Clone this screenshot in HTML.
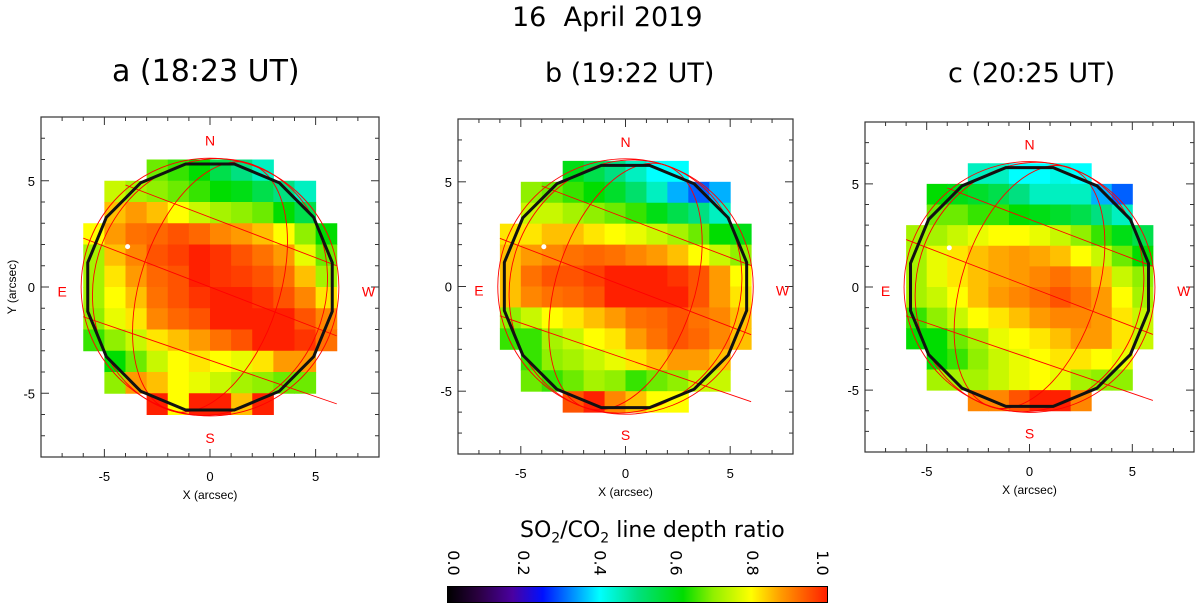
<!DOCTYPE html>
<html><head><meta charset="utf-8">
<style>
body{margin:0;background:#fff;width:1200px;height:606px;overflow:hidden;font-family:"Liberation Sans",sans-serif;}
.t{position:absolute;white-space:nowrap;color:#000;font-family:"DejaVu Sans","Liberation Sans",sans-serif;}
</style></head><body>
<div class="t" style="left:512px;top:2px;font-size:27px;">16&nbsp; April 2019</div>
<div class="t" style="left:112px;top:54px;font-size:30px;">a (18:23 UT)</div>
<div class="t" style="left:545px;top:58px;font-size:27px;">b (19:22 UT)</div>
<div class="t" style="left:948px;top:58px;font-size:27px;">c (20:25 UT)</div>
<svg id="svg" width="1200" height="606" style="position:absolute;left:0;top:0"></svg>
<div class="t" style="left:520px;top:518px;font-size:22px;">SO<sub style="font-size:14px">2</sub>/CO<sub style="font-size:14px">2</sub> line depth ratio</div>
<div style="position:absolute;left:447px;top:586px;width:381px;height:17px;border:1px solid #000;box-sizing:border-box;background:linear-gradient(to right,#000 0%,#2a0040 8%,#4a00a0 17%,#0010ff 25%,#0090ff 33%,#00ffff 40%,#00e080 50%,#00dd00 62%,#90f000 70%,#ffff00 80%,#ff9a00 88%,#ff2000 100%);"></div>
<script>
const tickVals=[-5,0,5];
const cbTicks=["0.0","0.2","0.4","0.6","0.8","1.0"];
const cellY=[5.5,4.5,3.5,2.5,1.5,0.5,-0.5,-1.5,-2.5,-3.5,-4.5,-5.5];
const cellX=[-5.5,-4.5,-3.5,-2.5,-1.5,-0.5,0.5,1.5,2.5,3.5,4.5,5.5];
const gridA=[
[.7,.7,.7,.68,.65,.62,.55,.5,.45,.45,.5,.5],
[.75,.75,.72,.7,.68,.65,.62,.6,.55,.5,.45,.45],
[.85,.85,.88,.85,.8,.75,.72,.7,.68,.62,.55,.5],
[.8,.88,.92,.93,.95,.93,.9,.88,.85,.8,.7,.62],
[.72,.85,.9,.95,.97,1,.98,.95,.92,.88,.78,.68],
[.72,.82,.88,.93,.95,1,.98,.97,.95,.92,.85,.72],
[.72,.8,.85,.92,.95,.98,1,1,.98,.95,.9,.82],
[.7,.78,.82,.9,.93,.95,1,1,1,1,.95,.9],
[.65,.7,.75,.82,.85,.88,.92,.95,1,1,.98,.92],
[.6,.62,.68,.75,.8,.82,.8,.78,.82,.88,.88,.85],
[.7,.7,.88,.85,.8,.78,.75,.72,.7,.68,.68,.65],
[.9,.9,1,1,.8,1,1,.85,1,.8,.7,.7]];
const gridB=[
[.6,.6,.62,.6,.55,.5,.45,.4,.4,.4,.4,.4],
[.7,.7,.68,.65,.62,.58,.52,.45,.35,.3,.35,.4],
[.75,.75,.75,.72,.7,.68,.65,.6,.55,.5,.45,.45],
[.82,.82,.85,.85,.82,.8,.78,.75,.72,.68,.62,.6],
[.85,.88,.9,.92,.93,.92,.9,.88,.85,.8,.75,.7],
[.85,.92,.95,.95,.97,1,1,1,.98,.95,.88,.8],
[.85,.9,.92,.93,.95,1,1,1,1,.95,.88,.82],
[.7,.75,.8,.82,.85,.88,.92,.93,.95,.92,.9,.85],
[.65,.65,.72,.75,.8,.82,.88,.92,.95,.93,.9,.85],
[.65,.65,.7,.72,.75,.78,.82,.85,.88,.88,.85,.8],
[.7,.68,.65,.68,.72,.7,.65,.68,.7,.75,.75,.7],
[.8,.8,.85,.95,1,.9,.85,.8,.8,.8,.75,.7]];
const gridC=[
[.55,.55,.5,.45,.45,.4,.4,.42,.4,.35,.35,.4],
[.65,.62,.6,.58,.55,.5,.45,.45,.45,.35,.3,.4],
[.68,.68,.68,.65,.65,.62,.6,.58,.55,.5,.45,.45],
[.72,.72,.75,.78,.8,.8,.78,.75,.7,.65,.6,.55],
[.72,.78,.82,.85,.87,.88,.87,.85,.8,.75,.68,.62],
[.72,.78,.82,.85,.87,.88,.9,.92,.9,.85,.75,.7],
[.72,.75,.8,.85,.88,.9,.92,.95,.92,.88,.8,.72],
[.65,.7,.75,.8,.82,.85,.88,.9,.9,.88,.82,.75],
[.62,.62,.68,.72,.78,.8,.82,.85,.88,.88,.82,.75],
[.62,.62,.65,.7,.75,.78,.8,.82,.82,.8,.78,.75],
[.72,.72,.72,.72,.75,.78,.8,.78,.72,.7,.7,.7],
[1,1,.95,.9,.9,.95,1,1,.9,.8,.7,.7]];
const NS="http://www.w3.org/2000/svg";
const svg=document.getElementById('svg');
const stops=[[0,[0,0,0]],[.08,[42,0,64]],[.17,[74,0,160]],[.25,[0,16,255]],[.33,[0,144,255]],[.4,[0,255,255]],[.5,[0,224,128]],[.62,[0,221,0]],[.7,[144,240,0]],[.8,[255,255,0]],[.88,[255,154,0]],[1,[255,32,0]]];
function cmap(v){v=Math.max(0,Math.min(1,v));for(let i=1;i<stops.length;i++){if(v<=stops[i][0]){const a=stops[i-1],b=stops[i],t=(v-a[0])/(b[0]-a[0]);const c=a[1].map((q,k)=>Math.round(q+(b[1][k]-q)*t));return `rgb(${c})`;}}return 'rgb(255,32,0)';}
function mk(tag,at,parent){const e=document.createElementNS(NS,tag);for(const k in at)e.setAttribute(k,at[k]);(parent||svg).appendChild(e);return e;}
function panel(id,grid,x0,x1,y0,y1,showY){
  const g=mk('g',{});
  
  
  const sx=v=>x0+(v+8)/16*(x1-x0), sy=v=>y1-(v+8)/16*(y1-y0);
  const cw=(x1-x0)/16, ch=(y1-y0)/16;
  cellY.forEach((yv,r)=>cellX.forEach((xv,c)=>{
    if(Math.hypot(xv,yv)>6.4)return;
    const rc=mk('rect',{x:sx(xv-.5),y:sy(yv+.5),width:cw+.5,height:ch+.5,fill:cmap(grid[r][c])},g);
    
    
  }));
  const cx=sx(0),cy=sy(0);
  const rg=mk('g',{fill:'none',stroke:'#f00','stroke-width':0.9},g);
  
  
  mk('circle',{cx:cx,cy:cy,r:6.1*cw},rg);
  mk('ellipse',{cx:cx,cy:cy,rx:3.3*cw,ry:6.1*ch,transform:`rotate(18 ${cx} ${cy})`},rg);
  mk('ellipse',{cx:cx,cy:cy,rx:5.5*cw,ry:6.1*ch,transform:`rotate(18 ${cx} ${cy})`},rg);
  [[-6,2.3,6,-2.3],[-6,-1.4,6,-5.5],[-4,4.8,6,1]].forEach(l=>mk('line',{x1:sx(l[0]),y1:sy(l[1]),x2:sx(l[2]),y2:sy(l[3])},rg));
  let pts=[];for(let i=0;i<16;i++){const a=i/16*2*Math.PI+Math.PI/16;pts.push([cx+5.9*cw*Math.cos(a),cy+5.9*ch*Math.sin(a)].join(','));}
  const lb=mk('polygon',{points:pts.join(' '),fill:'none',stroke:'#111','stroke-width':3},g);
  
  
  mk('circle',{cx:sx(-3.9),cy:sy(1.9),r:2.5,fill:'#fff'},g);
  const fr=mk('rect',{x:x0,y:y0,width:x1-x0,height:y1-y0,fill:'none',stroke:'#333','stroke-width':1.2},g);
  
  
  for(let v=-7;v<=7;v++){const L=(v%5==0)?8:4;
    mk('line',{x1:sx(v),y1:y1,x2:sx(v),y2:y1-L,stroke:'#333'},g);
    mk('line',{x1:sx(v),y1:y0,x2:sx(v),y2:y0+L,stroke:'#333'},g);
    mk('line',{x1:x0,y1:sy(v),x2:x0+L,y2:sy(v),stroke:'#333'},g);
    mk('line',{x1:x1,y1:sy(v),x2:x1-L,y2:sy(v),stroke:'#333'},g);}
  tickVals.forEach(v=>{
    const t=mk('text',{x:sx(v),y:y1+24,'font-size':13,'text-anchor':'middle','font-family':'Liberation Sans'},g);t.textContent=v;
    
    
    const u=mk('text',{x:x0-6,y:sy(v)+5,'font-size':13,'text-anchor':'end','font-family':'Liberation Sans'},g);u.textContent=v;
    
    
  });
  const xt=mk('text',{x:sx(0),y:y1+42,'font-size':12,'text-anchor':'middle','font-family':'Liberation Sans'},g);xt.textContent='X (arcsec)';
  
  
  if(showY){const yt=mk('text',{x:0,y:0,'font-size':12,'text-anchor':'middle','font-family':'Liberation Sans',transform:`translate(16 ${sy(0)}) rotate(-90)`},g);yt.textContent='Y (arcsec)';
    
    }
  [['N',0,6.9],['S',0,-7.1],['E',-7,-0.2],['W',7.5,-0.2]].forEach(d=>{const t=mk('text',{x:sx(d[1]),y:sy(d[2])+5,'font-size':14,fill:'#f00','text-anchor':'middle','font-family':'Liberation Sans'},g);t.textContent=d[0];
    
    });
}
panel('a',gridA,41,379,117,457,true);
panel('b',gridB,458,793,119,454,false);
panel('c',gridC,865,1194,122,452,false);
cbTicks.forEach((s,i)=>{const x=447+i/5*381+(i==0?6:(i==5?-6:0));
  const t=mk('text',{x:0,y:0,'font-size':16,'font-family':'DejaVu Sans','text-anchor':'middle',transform:`translate(${x-5} 563) rotate(90)`});t.textContent=s;
  
  });
</script>
</body></html>
